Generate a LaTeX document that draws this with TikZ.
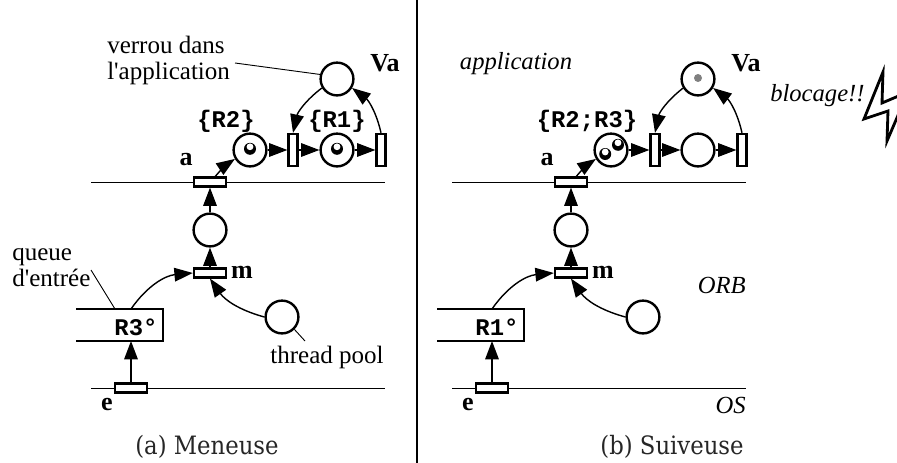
\documentclass[tikz,border=0pt]{standalone}
\usepackage{fontspec}
\newfontfamily\labelfont{Liberation Serif}
\setmonofont{Liberation Mono}
\newfontfamily\captionfont{DejaVu Serif Condensed}
\usepackage{tikz}
\usetikzlibrary{arrows.meta}
\tikzset{
    place/.style={draw,circle,line width=1.7pt,minimum size=0.82cm,inner sep=0pt},
    transh/.style={draw,rectangle,line width=1.7pt,fill=white,minimum width=0.8cm,minimum height=0.22cm,inner sep=0pt},
    transv/.style={draw,rectangle,line width=1.7pt,fill=white,minimum width=0.22cm,minimum height=0.8cm,inner sep=0pt},
    arc/.style={-{Triangle[length=0.46cm,width=0.34cm]},line width=1pt},
    thin line/.style={line width=0.65pt},
    txt/.style={font=\fontsize{17.8}{18.5}\labelfont,inner sep=0pt},
    itxt/.style={font=\fontsize{17.5}{18.5}\labelfont\itshape,inner sep=0pt},
    btxt/.style={font=\fontsize{18.5}{20}\labelfont\bfseries,inner sep=0pt},
    ttxt/.style={font=\fontsize{17}{20}\ttfamily\bfseries,inner sep=0pt},
    captxt/.style={font=\fontsize{18}{20}\captionfont,text=black!85,inner sep=0pt},
    token/.style={circle,fill=black,minimum size=0.3cm,inner sep=0pt},
    tokeneye/.style={circle,fill=white,minimum size=0.17cm,inner sep=0pt},
    lock/.style={circle,fill=black!50,minimum size=0.2cm,inner sep=0pt},
}
\begin{document}
\begin{tikzpicture}
    \useasboundingbox (0,0) rectangle (22.425,-11.575);
    \draw[line width=1.1pt] (10.425,0) -- (10.425,-11.575);

    % levels
    \draw[thin line] (2.275,-4.55) -- (9.625,-4.55);
    \draw[thin line] (2.275,-9.7) -- (9.625,-9.7);
    \draw[thin line] (11.3,-4.55) -- (18.65,-4.55);
    \draw[thin line] (11.3,-9.7) -- (18.65,-9.7);

    % (a)
    \node[place] (va) at (8.425,-1.975) {};
    \node[place] (r2) at (6.25,-3.75) {};
    \node[transv] (ta) at (7.325,-3.75) {};
    \node[place] (r1) at (8.425,-3.75) {};
    \node[transv] (tb) at (9.525,-3.75) {};
    \node[transh] (a) at (5.25,-4.55) {};
    \node[place] (p) at (5.25,-5.75) {};
    \node[transh] (m) at (5.25,-6.825) {};
    \node[place] (pool) at (7.05,-7.925) {};
    \node[transh] (e) at (3.275,-9.7) {};
    \coordinate (qtop) at (3.275,-7.725);
    \coordinate (qbot) at (3.275,-8.525);
    \draw[line width=1.9pt] (1.9,-7.725) -- (4.075,-7.725) -- (4.075,-8.525) -- (1.9,-8.525);
    \node[token] (t2) at (6.25,-3.72) {};
    \node[tokeneye] at (6.25,-3.67) {};
    \node[token] (t1) at (8.425,-3.72) {};
    \node[tokeneye] at (8.425,-3.67) {};

    \draw[arc] (e) -- (qbot);
    \draw[arc] (qtop) to[bend left=25] (m.west);
    \draw[arc] (pool.west) to[bend left=20] (m.south);
    \draw[arc] (m) -- (p);
    \draw[arc] (p) -- (a);
    \draw[arc] (a) to[bend left=8] (r2);
    \draw[arc] (r2) -- (ta);
    \draw[arc] (ta) -- (r1);
    \draw[arc] (r1) -- (tb);
    \draw[arc] (tb.north) to[bend right=20] (va);
    \draw[arc] (va) to[bend right=20] (ta.north);

    \node[txt,align=left,anchor=west] (lock) at (2.675,-1.5) {verrou dans\\l'application};
    \coordinate (lockend) at (5.875,-1.575);
    \draw[thin line] (lockend) -- (va.165);
    \node[txt,align=left,anchor=west] (queue) at (0.3,-6.7) {queue\\d'entrée};
    \coordinate (queueend) at (2.275,-6.75);
    \coordinate (queuefoot) at (2.875,-7.725);
    \draw[thin line] (queueend) -- (queuefoot);
    \node[txt] (pooltxt) at (8.175,-8.925) {thread pool};
    \coordinate (poolend) at (7.625,-8.525);
    \draw[thin line] (pool.south east) -- (poolend);
    \node[btxt] (vatxt) at (9.625,-1.575) {Va};
    \node[btxt] (atxt) at (4.65,-4) {a};
    \node[btxt] (mtxt) at (6.05,-6.8) {m};
    \node[btxt] (etxt) at (2.675,-10.125) {e};
    \node[ttxt] (r2txt) at (5.65,-3.03) {\{R2\}};
    \node[ttxt] (r1txt) at (8.425,-3.03) {\{R1\}};
    \node[ttxt] (r3txt) at (3.4,-8.175) {R3°};
    \node[captxt] (capa) at (5.175,-11.175) {(a) Meneuse};

    % (b)
    \node[place] (vb) at (17.45,-1.975) {};
    \node[lock] (l) at (17.45,-1.95) {};
    \node[place] (r23) at (15.275,-3.75) {};
    \node[transv] (tc) at (16.375,-3.75) {};
    \node[place] (r0) at (17.45,-3.75) {};
    \node[transv] (td) at (18.55,-3.75) {};
    \node[transh] (b) at (14.275,-4.55) {};
    \node[place] (q) at (14.275,-5.75) {};
    \node[transh] (n) at (14.275,-6.825) {};
    \node[place] (poolb) at (16.075,-7.925) {};
    \node[transh] (f) at (12.3,-9.7) {};
    \coordinate (qtopb) at (12.3,-7.725);
    \coordinate (qbotb) at (12.3,-8.525);
    \draw[line width=1.9pt] (10.925,-7.725) -- (13.1,-7.725) -- (13.1,-8.525) -- (10.925,-8.525);
    \node[token] (t3) at (15.13,-3.85) {};
    \node[tokeneye] at (15.13,-3.8) {};
    \node[token] (t4) at (15.45,-3.62) {};
    \node[tokeneye] at (15.45,-3.57) {};

    \draw[arc] (f) -- (qbotb);
    \draw[arc] (qtopb) to[bend left=25] (n.west);
    \draw[arc] (poolb.west) to[bend left=20] (n.south);
    \draw[arc] (n) -- (q);
    \draw[arc] (q) -- (b);
    \draw[arc] (b) to[bend left=8] (r23);
    \draw[arc] (r23) -- (tc);
    \draw[arc] (tc) -- (r0);
    \draw[arc] (r0) -- (td);
    \draw[arc] (td.north) to[bend right=20] (vb);
    \draw[arc] (vb) to[bend right=20] (tc.north);

    \node[itxt] (apptxt) at (12.9,-1.6) {application};
    \node[itxt,anchor=east] (orbtxt) at (18.65,-7.125) {ORB};
    \node[itxt,anchor=east] (ostxt) at (18.65,-10.125) {OS};
    \node[itxt,anchor=west] (bloc) at (19.25,-2.4) {blocage!!};
    \node[btxt] (vbtxt) at (18.65,-1.575) {Va};
    \node[btxt] (btxt) at (13.675,-4) {a};
    \node[btxt] (ntxt) at (15.075,-6.8) {m};
    \node[btxt] (ftxt) at (11.7,-10.125) {e};
    \node[ttxt] (r23txt) at (14.675,-3.03) {\{R2;R3\}};
    \node[ttxt] (r0txt) at (12.425,-8.175) {R1°};
    \node[captxt] (capb) at (16.8,-11.175) {(b) Suiveuse};

    % bolt runs off the page
    \draw[line width=2pt,miter limit=10] (22.075,-1.8) -- (21.6,-2.975) -- (22.2,-2.775) -- (22.175,-3.525) -- (22.7,-2.3) -- (22.05,-2.575) -- cycle;
\end{tikzpicture}
\end{document}
